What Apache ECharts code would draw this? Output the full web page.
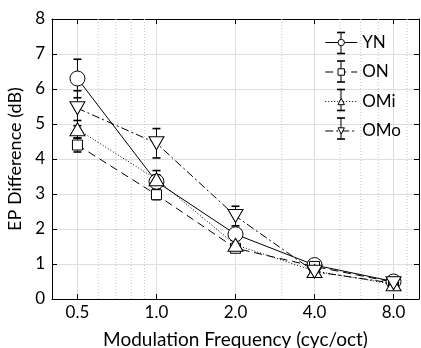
<!DOCTYPE html>
<html><head><meta charset="utf-8">
<script src="https://cdn.jsdelivr.net/npm/echarts@6/dist/echarts.min.js"></script>
<style>html,body{margin:0;padding:0;background:#fff}#c{width:421px;height:348px}</style>
</head><body><div id="c"></div>
<script>
const freqs = [0.5, 1, 2, 4, 8];
const xTickLabels = ['0.5', '1.0', '2.0', '4.0', '8.0'];
const minorGrid = [0.6, 0.7, 0.8, 0.9, 3, 5, 6, 7, 9];
const seriesNames = ['YN', 'ON', 'OMi', 'OMo'];
const YN = [6.30, 3.35, 1.85, 0.97, 0.50];
const YN_err = [0.55, 0.20, 0.15, 0.06, 0.05];
const ON = [4.40, 2.98, 1.45, 0.93, 0.48];
const ON_err = [0.20, 0.14, 0.08, 0.05, 0.04];
const OMi = [4.85, 3.42, 1.55, 0.80, 0.42];
const OMi_err = [0.25, 0.25, 0.12, 0.06, 0.05];
const OMo = [5.45, 4.45, 2.37, 0.78, 0.45];
const OMo_err = [0.50, 0.42, 0.28, 0.06, 0.05];

const FONT = 'Lato';
const vals = {YN: YN, ON: ON, OMi: OMi, OMo: OMo};
const errs = {YN: YN_err, ON: ON_err, OMi: OMi_err, OMo: OMo_err};
const styles = {
  YN: {symbol: 'circle', size: 15, rotate: 0, dash: 'solid'},
  ON: {symbol: 'rect', size: 10, rotate: 0, dash: [8, 5]},
  OMi: {symbol: 'triangle', size: [15, 13], rotate: 0, dash: [1, 2]},
  OMo: {symbol: 'triangle', size: [15, 13], rotate: 180, dash: [8, 3, 2, 3]}
};

function errSeries(name) {
  const v = vals[name], e = errs[name];
  return {
    type: 'custom', name: name + ' err', silent: true, z: 2,
    data: freqs.map((f, i) => [f, v[i] - e[i], v[i] + e[i]]),
    encode: {x: 0, y: [1, 2]},
    renderItem: function (params, api) {
      const lo = api.coord([api.value(0), api.value(1)]);
      const hi = api.coord([api.value(0), api.value(2)]);
      const w = 4;
      return {type: 'group', children: [
        {type: 'line', shape: {x1: lo[0], y1: lo[1], x2: hi[0], y2: hi[1]}, style: {stroke: '#000', lineWidth: 1}},
        {type: 'line', shape: {x1: lo[0] - w, y1: lo[1], x2: lo[0] + w, y2: lo[1]}, style: {stroke: '#000', lineWidth: 1.6}},
        {type: 'line', shape: {x1: hi[0] - w, y1: hi[1], x2: hi[0] + w, y2: hi[1]}, style: {stroke: '#000', lineWidth: 1.6}}
      ]};
    }
  };
}
function lineSeries(name) {
  const s = styles[name];
  return {
    type: 'line', name: name, z: 3,
    data: freqs.map((f, i) => [f, vals[name][i]]),
    symbol: s.symbol, symbolSize: s.size, symbolRotate: s.rotate, showSymbol: true,
    color: '#000',
    itemStyle: {color: '#fff', borderColor: '#000', borderWidth: 1},
    lineStyle: {color: '#000', width: 1, type: s.dash},
    emphasis: {disabled: true}
  };
}

const series = [];
series.push({
  type: 'custom', name: 'minor grid', silent: true, z: 1,
  data: minorGrid.map(v => [v]),
  encode: {x: 0},
  renderItem: function (params, api) {
    const x = api.coord([api.value(0), 0])[0];
    const cs = params.coordSys;
    return {type: 'line', shape: {x1: x, y1: cs.y, x2: x, y2: cs.y + cs.height},
      style: {stroke: '#c4c4c4', lineWidth: 1, lineDash: [1, 2]}};
  }
});
seriesNames.forEach(n => series.push(errSeries(n)));
seriesNames.forEach(n => series.push(lineSeries(n)));

// legend decoration: small error-bar glyphs behind each legend icon
const LEG_TOP = 34, LEG_STEP = 28.5, LEG_ICON_X = 341;
const legendDeco = [];
seriesNames.forEach((n, i) => {
  const cy = LEG_TOP + 9 + i * LEG_STEP;
  legendDeco.push({type: 'line', z: 100, shape: {x1: LEG_ICON_X, y1: cy - 10.5, x2: LEG_ICON_X, y2: cy + 10.5}, style: {stroke: '#000', lineWidth: 1}});
  legendDeco.push({type: 'line', z: 100, shape: {x1: LEG_ICON_X - 4, y1: cy - 10.5, x2: LEG_ICON_X + 4, y2: cy - 10.5}, style: {stroke: '#000', lineWidth: 1.6}});
  legendDeco.push({type: 'line', z: 100, shape: {x1: LEG_ICON_X - 4, y1: cy + 10.5, x2: LEG_ICON_X + 4, y2: cy + 10.5}, style: {stroke: '#000', lineWidth: 1.6}});
});

const baseX = {
  type: 'log', logBase: 2, min: 0.4, max: 10,
  axisLine: {show: true, onZero: false, lineStyle: {color: '#000', width: 1}},
  axisTick: {show: true, inside: true, length: 5, lineStyle: {color: '#000'}},
  splitLine: {show: false},
  minorTick: {show: false}, minorSplitLine: {show: false}
};
const option = {
  animation: false,
  backgroundColor: '#fff',
  textStyle: {fontFamily: FONT},
  grid: {left: 52, right: 2, top: 19, bottom: 49, containLabel: false, outerBoundsMode: 'none'},
  graphic: legendDeco,
  legend: {
    data: seriesNames, orient: 'vertical', right: 20, top: LEG_TOP, z: 200,
    itemWidth: 32, itemHeight: 8, itemGap: 12.5, padding: 0,
    lineStyle: {width: 1, color: '#000'},
    itemStyle: {borderWidth: 1, borderColor: '#000', color: '#fff'},
    textStyle: {fontFamily: FONT, fontSize: 17, color: '#000'},
    selectedMode: false
  },
  xAxis: [
    Object.assign({}, baseX, {
      position: 'bottom',
      name: 'Modulation Frequency (cyc/oct)', nameLocation: 'middle', nameGap: 31,
      nameTextStyle: {fontFamily: FONT, fontSize: 19, color: '#000'},
      axisLabel: {show: true, color: '#000', fontFamily: FONT, fontSize: 17, margin: 5,
        showMinLabel: false, showMaxLabel: false,
        formatter: function (v) { const i = freqs.findIndex(f => Math.abs(f - v) < 1e-6); return i >= 0 ? xTickLabels[i] : ''; }},
      splitLine: {show: true, lineStyle: {color: '#dedede', width: 1}}
    }),
    Object.assign({}, baseX, {position: 'top', axisLabel: {show: false}})
  ],
  yAxis: [
    {type: 'value', min: 0, max: 8, interval: 1, position: 'left',
     name: 'EP Difference (dB)', nameLocation: 'middle', nameGap: 17,
     nameTextStyle: {fontFamily: FONT, fontSize: 18, color: '#000'},
     axisLine: {show: true, onZero: false, lineStyle: {color: '#000'}},
     axisTick: {show: true, inside: true, length: 5, lineStyle: {color: '#000'}},
     axisLabel: {color: '#000', fontFamily: FONT, fontSize: 17, margin: 7},
     splitLine: {show: true, lineStyle: {color: '#dedede', width: 1}}},
    {type: 'value', min: 0, max: 8, interval: 1, position: 'right',
     axisLine: {show: true, onZero: false, lineStyle: {color: '#000'}},
     axisTick: {show: true, inside: true, length: 5, lineStyle: {color: '#000'}},
     axisLabel: {show: false}, splitLine: {show: false}}
  ],
  series: series
};
const chart = echarts.init(document.getElementById('c'), null, {renderer: 'canvas'});
chart.setOption(option);
</script></body></html>
